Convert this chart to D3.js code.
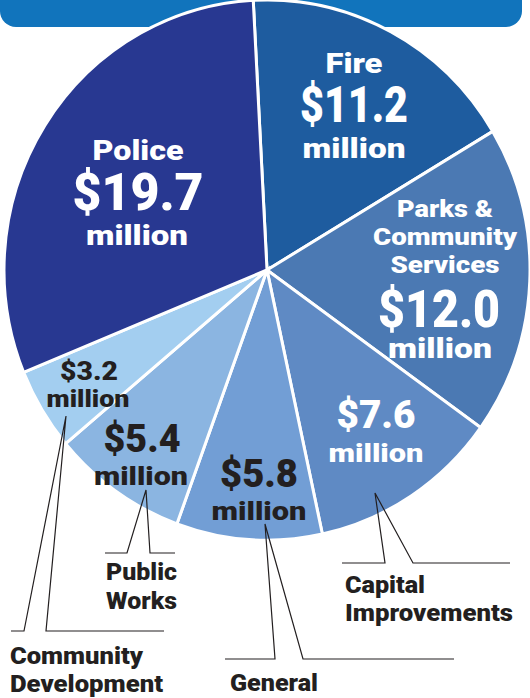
<!DOCTYPE html>
<html>
<head>
<meta charset="utf-8">
<script src="https://cdn.jsdelivr.net/npm/d3@7"></script>
<style>
  body { margin: 0; background: #fff; }
  svg { display: block; }
  text { font-family: Roboto, "Liberation Sans", sans-serif; font-weight: 900; }
</style>
</head>
<body>
<div class="chart"></div>
<script>
// budget by department, millions of dollars (clockwise from 12 o'clock)
var departments = ["Fire", "Parks & Community Services", "Capital Improvements", "General", "Public Works", "Community Development", "Police"];
var amounts = [11.2, 12.0, 7.6, 5.8, 5.4, 3.2, 19.7];
var amountLabels = ["$11.2", "$12.0", "$7.6", "$5.8", "$5.4", "$3.2", "$19.7"];
var colors = ["#1e5c9f", "#4b79b3", "#5f8ac4", "#729ed5", "#8bb5e1", "#a3cef0", "#283891"];

var width = 530,
    height = 698;

var svg = d3.select(".chart").append("svg")
    .attr("width", width)
    .attr("height", height);

// blue banner behind the top of the pie
svg.append("rect")
    .attr("x", 0).attr("y", -30)
    .attr("width", 522).attr("height", 57)
    .attr("rx", 16)
    .attr("fill", "#1174bc");

var cx = 267, cy = 270, r = 263,
    τ = 2 * Math.PI,
    start = -3 / 360 * τ;

var pie = d3.pie()
    .sort(null)
    .startAngle(start)
    .endAngle(start + τ)
    .value(function (d, i) { return amounts[i]; });

var arc = d3.arc().innerRadius(0).outerRadius(r);

var g = svg.append("g")
    .attr("transform", "translate(" + cx + "," + cy + ") scale(1,1.027)");

g.selectAll("path")
    .data(pie(departments))
    .enter().append("path")
    .attr("d", arc)
    .attr("fill", function (d, i) { return colors[i]; })
    .attr("stroke", "#fff")
    .attr("stroke-width", 3)
    .attr("vector-effect", "non-scaling-stroke");

// labels inside the slices: [text, x, baseline, size, width]  ("$" = amount)
var inside = {
    "Police": [["Police", 138, 160, 27, 91], ["$", 138, 210, 52, 131], ["million", 137, 245, 28, 102]],
    "Fire": [["Fire", 354, 73, 27, 57], ["$", 354, 122, 50, 108], ["million", 354, 158, 28, 103]],
    "Parks & Community Services": [["Parks &", 445, 217, 24, 96], ["Community", 445, 245, 24, 144], ["Services", 445, 273, 24, 109],
        ["$", 439, 327, 52, 122], ["million", 440, 358, 28, 104]],
    "Capital Improvements": [["$", 376, 428, 38, 79], ["million", 376, 462, 26, 95]],
    "General": [["$", 259, 487, 38, 78], ["million", 259, 520, 26, 95]],
    "Public Works": [["$", 142, 452, 38, 77], ["million", 141, 485, 26, 94]],
    "Community Development": [["$", 89, 380, 25, 58], ["million", 88, 407, 23, 83]]
};
var dark = { "General": 1, "Public Works": 1, "Community Development": 1 };

departments.forEach(function (name, i) {
    inside[name].forEach(function (t) {
        svg.append("text")
            .attr("x", t[1]).attr("y", t[2])
            .attr("text-anchor", "middle")
            .attr("font-size", t[3])
            .attr("fill", dark[name] ? "#231f20" : "#fff")
            .attr("textLength", t[4])
            .attr("lengthAdjust", "spacingAndGlyphs")
            .text(t[0] == "$" ? amountLabels[i] : t[0]);
    });
});

// callouts below the pie: label lines, widths, label x, baselines, leader polyline
var callouts = [
    { lines: ["Public", "Works"], w: [71, 71], x: 106, y: [580, 609],
      path: [[105, 553], [127, 553], [146, 490], [150, 553], [175, 553]] },
    { lines: ["Capital", "Improvements"], w: [80, 168], x: 345, y: [593, 621],
      path: [[342, 563], [385, 563], [375, 493], [413, 563], [510, 563]] },
    { lines: ["Community", "Development"], w: [133, 153], x: 10, y: [664, 692],
      path: [[11, 631], [24, 631], [66, 416], [46, 631], [164, 631]] },
    { lines: ["General"], w: [88], x: 230, y: [691],
      path: [[225, 659], [275, 659], [265, 524], [303, 659], [454, 659]] }
];

var line = d3.line();

callouts.forEach(function (c) {
    svg.append("path")
        .attr("d", line(c.path))
        .attr("fill", "none")
        .attr("stroke", "#231f20")
        .attr("stroke-width", 1.2);
    c.lines.forEach(function (s, k) {
        svg.append("text")
            .attr("x", c.x).attr("y", c.y[k])
            .attr("font-size", 24)
            .attr("font-weight", 700)
            .attr("fill", "#231f20")
            .attr("textLength", c.w[k])
            .attr("lengthAdjust", "spacingAndGlyphs")
            .text(s);
    });
});
</script>
</body>
</html>
